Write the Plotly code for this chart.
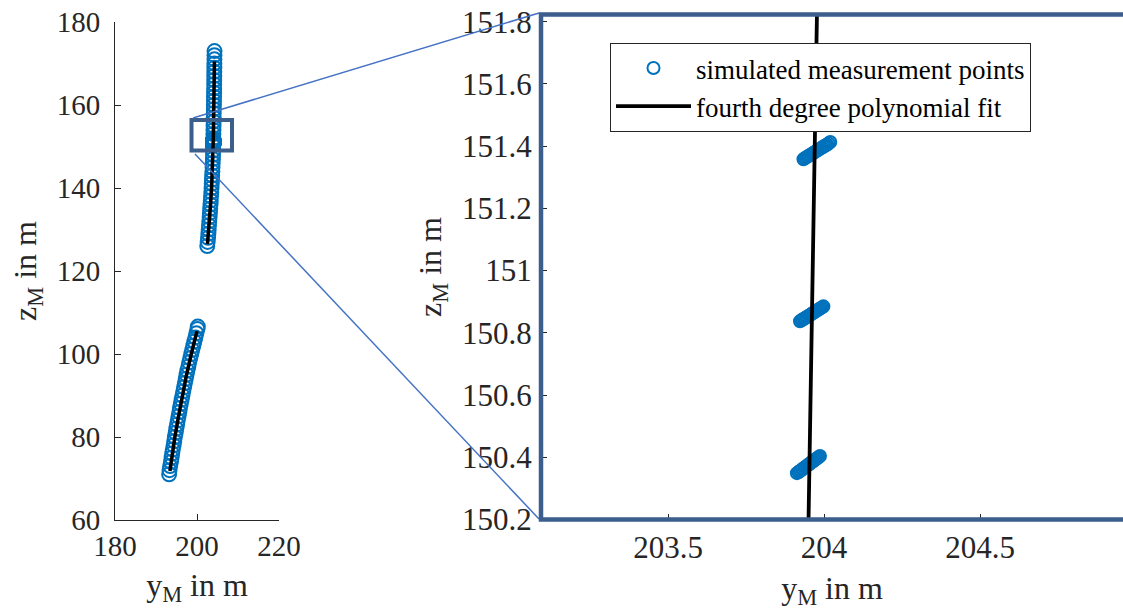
import plotly.graph_objects as go

# ---------------- data ----------------
# lower group of simulated measurement points (y_M, z_M in m)
lower_z = [71.0, 72.0, 73.0, 74.0, 75.0, 76.0, 77.0, 78.0, 79.0, 80.0, 81.0, 82.0,
           83.0, 84.0, 85.0, 86.0, 87.0, 88.0, 89.0, 90.0, 91.0, 92.0, 93.0, 94.0,
           95.0, 96.0, 97.0, 98.0, 99.0, 100.0, 101.0, 102.0, 103.0, 104.0, 105.0,
           106.0, 106.6]
lower_y = [193.2, 193.3, 193.45, 193.65, 193.8, 193.95, 194.1, 194.3, 194.45, 194.6,
           194.8, 194.95, 195.15, 195.3, 195.5, 195.7, 195.85, 196.05, 196.25, 196.45,
           196.65, 196.85, 197.05, 197.25, 197.45, 197.65, 197.9, 198.1, 198.35, 198.6,
           198.85, 199.1, 199.35, 199.6, 199.85, 200.1, 200.2]

# upper group of simulated measurement points
upper_z = [126.0, 127.0, 128.0, 129.0, 130.0, 131.0, 132.0, 133.0, 134.0, 135.0,
           136.0, 137.0, 138.0, 139.0, 140.0, 141.0, 142.0, 143.0, 144.0, 145.0,
           146.0, 147.0, 148.0, 149.0, 152.0, 153.0, 154.0, 155.0, 156.0, 157.0,
           158.0, 159.0, 160.0, 161.0, 162.0, 163.0, 164.0, 165.0, 166.0, 167.0,
           168.0, 169.0, 170.0, 171.0, 172.0, 173.0]
upper_y = [202.5, 202.6, 202.7, 202.78, 202.85, 202.93, 203.0, 203.08, 203.15, 203.22,
           203.3, 203.36, 203.42, 203.49, 203.55, 203.6, 203.65, 203.7, 203.75, 203.79,
           203.84, 203.88, 203.91, 203.93, 203.99, 204.0, 204.02, 204.04, 204.06, 204.07,
           204.09, 204.11, 204.13, 204.14, 204.15, 204.17, 204.18, 204.19, 204.2, 204.21,
           204.22, 204.23, 204.24, 204.25, 204.26, 204.27]

# detailed measurement clusters visible in the zoomed view
cluster1_y = [203.913, 203.918, 203.921, 203.925, 203.929, 203.932, 203.936, 203.940, 203.943,
              203.947, 203.951, 203.954, 203.958, 203.961, 203.965, 203.969, 203.972, 203.976,
              203.980, 203.983, 203.987]
cluster1_z = [150.349, 150.352, 150.355, 150.357, 150.360, 150.363, 150.366, 150.368, 150.371,
              150.374, 150.377, 150.379, 150.382, 150.385, 150.387, 150.390, 150.393, 150.396,
              150.398, 150.401, 150.404]
cluster2_y = [203.923, 203.927, 203.931, 203.935, 203.939, 203.943, 203.947, 203.951, 203.955,
              203.959, 203.962, 203.966, 203.970, 203.974, 203.978, 203.982, 203.986, 203.990,
              203.994, 203.998]
cluster2_z = [150.837, 150.840, 150.842, 150.845, 150.847, 150.850, 150.852, 150.855, 150.857,
              150.860, 150.862, 150.865, 150.867, 150.870, 150.872, 150.875, 150.877, 150.880,
              150.882, 150.885]
cluster3_y = [203.934, 203.938, 203.942, 203.946, 203.950, 203.954, 203.958, 203.962, 203.966,
              203.970, 203.974, 203.978, 203.982, 203.986, 203.990, 203.994, 203.998, 204.002,
              204.006, 204.010, 204.015, 204.020]
cluster3_z = [151.358, 151.361, 151.363, 151.366, 151.368, 151.371, 151.373, 151.376, 151.378,
              151.381, 151.383, 151.386, 151.388, 151.391, 151.393, 151.396, 151.398, 151.401,
              151.403, 151.405, 151.409, 151.413]

# fourth degree polynomial fit (sampled)
fit_lower_z = [71.8, 75.0, 80.0, 85.0, 90.0, 95.0, 100.0, 105.5]
fit_lower_y = [193.4, 193.85, 194.6, 195.5, 196.45, 197.45, 198.6, 200.0]
fit_upper_z = [126.5, 128.0, 130.0, 133.0, 136.0, 140.0, 144.0, 147.0, 150.0, 152.0,
               155.0, 160.0, 165.0, 170.5]
fit_upper_y = [202.55, 202.7, 202.85, 203.08, 203.3, 203.55, 203.75, 203.88, 203.947, 203.979,
               204.03, 204.12, 204.19, 204.25]

left_xticks = [180, 200, 220]
left_yticks = [60, 80, 100, 120, 140, 160, 180]
right_xticks = [203.5, 204, 204.5]
right_yticks = [150.2, 150.4, 150.6, 150.8, 151, 151.2, 151.4, 151.6, 151.8]

# ---------------- styling ----------------
W, H = 1123, 612
BLUE = "#0072BD"
FRAME = "#3B5E8C"
CONN = "#4472C4"
AX = "#262626"
FONT = "Liberation Serif, Times New Roman, serif"

def px(x):
    return x / W

def py(y):
    return 1 - y / H

pts_y = lower_y + upper_y + cluster1_y + cluster2_y + cluster3_y
pts_z = lower_z + upper_z + cluster1_z + cluster2_z + cluster3_z
fit_y = fit_lower_y + [None] + fit_upper_y
fit_z = fit_lower_z + [None] + fit_upper_z

fig = go.Figure()
marker_left = dict(symbol="circle-open", size=14, color=BLUE, line=dict(width=2, color=BLUE))
marker_right = dict(symbol="circle-open", size=12, color=BLUE, line=dict(width=2, color=BLUE))

fig.add_trace(go.Scatter(x=pts_y, y=pts_z, mode="markers", marker=marker_left,
                         xaxis="x", yaxis="y", showlegend=False))
fig.add_trace(go.Scatter(x=fit_y, y=fit_z, mode="lines", line=dict(color="black", width=3.5),
                         xaxis="x", yaxis="y", showlegend=False))
fig.add_trace(go.Scatter(x=pts_y, y=pts_z, mode="markers", marker=marker_right,
                         xaxis="x2", yaxis="y2", name="simulated measurement points"))
fig.add_trace(go.Scatter(x=fit_y, y=fit_z, mode="lines", line=dict(color="black", width=3.8),
                         xaxis="x2", yaxis="y2", name="fourth degree polynomial fit"))

def axis_common(size, standoff=0):
    return dict(showgrid=False, zeroline=False, showline=True, linecolor=AX, linewidth=1,
                ticks="inside", ticklen=6, tickcolor=AX, automargin=False,
                ticklabelstandoff=standoff,
                tickfont=dict(family=FONT, size=size, color=AX))

title_font = dict(family=FONT, size=32, color=AX)

fig.update_layout(
    width=W, height=H,
    margin=dict(l=0, r=0, t=0, b=0),
    paper_bgcolor="white", plot_bgcolor="white",
    xaxis=dict(domain=[px(115), px(279)], range=[180, 220], tickvals=left_xticks,
               title=dict(text="y<sub>M</sub> in m", font=title_font, standoff=12),
               anchor="y", **axis_common(29)),
    yaxis=dict(domain=[py(520), py(22)], range=[60, 180], tickvals=left_yticks,
               title=dict(text="z<sub>M</sub> in m", font=title_font, standoff=10),
               anchor="x", **axis_common(29, 8)),
    xaxis2=dict(domain=[px(541), 1.0], range=[203.093, 204.958], tickvals=right_xticks,
                title=dict(text="y<sub>M</sub> in m", font=title_font, standoff=12),
                anchor="y2", **axis_common(31)),
    yaxis2=dict(domain=[py(519.5), py(14.5)], range=[150.2, 151.823], tickvals=right_yticks,
                title=dict(text="z<sub>M</sub> in m", font=title_font, standoff=10),
                anchor="x2", **axis_common(31, 2)),
    legend=dict(x=px(610), y=py(43), xanchor="left", yanchor="top",
                bgcolor="white", bordercolor=AX, borderwidth=1,
                font=dict(family=FONT, size=27, color="black"),
                itemwidth=75, tracegroupgap=0),
    shapes=[
        # zoom rectangle on the overview plot
        dict(type="rect", xref="x", yref="y", x0=198.66, x1=208.54, y0=149.06, y1=156.38,
             line=dict(color=FRAME, width=4), layer="above"),
        # connector lines
        dict(type="line", xref="paper", yref="paper", x0=px(193), y0=py(118), x1=px(539), y1=py(13),
             line=dict(color=CONN, width=1.5)),
        dict(type="line", xref="paper", yref="paper", x0=px(195), y0=py(154), x1=px(539), y1=py(519),
             line=dict(color=CONN, width=1.5)),
        # frame around the zoomed plot
        dict(type="rect", xref="paper", yref="paper", x0=px(541), x1=1.02, y0=py(519.5), y1=py(14.5),
             line=dict(color=FRAME, width=4.5), layer="above"),
    ],
)

fig.write_html("out.html")
